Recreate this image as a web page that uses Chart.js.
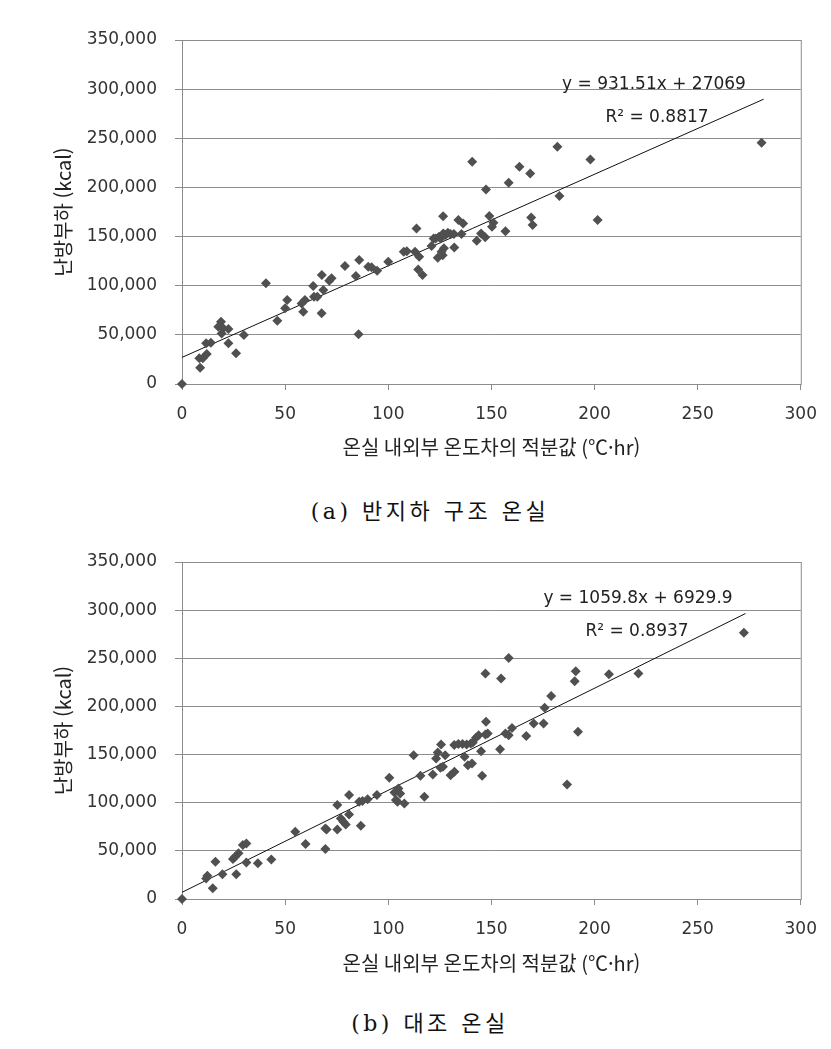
<!DOCTYPE html>
<html lang="ko">
<head>
  <meta charset="UTF-8" />
  <title>난방부하 회귀</title>
  <script src="https://cdn.jsdelivr.net/npm/chart.js"></script>
  <style>
    body { margin: 0; background: #fff; }
    .wrap { position: relative; width: 831px; height: 1049px; }
    canvas { position: absolute; left: 0; }
    .cap { position: absolute; left: 230px; width: 400px; text-align: center;
           font-family: 'DejaVu Serif', 'Noto Sans CJK KR'; font-size: 22px; letter-spacing: 3.5px; color: #111; }
  </style>
</head>
<body>
<div class="wrap">
  <canvas id="chartA" width="831" height="470" style="top:0"></canvas>
  <div class="cap" style="top:493px">(a) 반지하 구조 온실</div>
  <canvas id="chartB" width="831" height="470" style="top:522px"></canvas>
  <div class="cap" style="top:1005px">(b) 대조 온실</div>
</div>

<script>
  // (a) 반지하 구조 온실
  const xA = [0, 8.8, 8.4, 10.1, 12, 11.7, 14, 18.9, 17.6, 20, 22.5, 19.2, 22.5, 26.2, 30,
    40.7, 46.2, 50, 51, 58, 59.6, 58.8, 63.6, 64, 65.6, 67.8, 67.7, 68.5, 71.4, 72.5,
    79, 84.3, 85.9, 85.6, 90.3, 91.9, 94.6, 100, 107.5, 109, 113, 113.7, 115, 114.5, 116.6,
    121, 122, 123, 124.6, 125.4, 126.7, 127.8, 128.9, 130.2, 131.8, 132, 124, 125.8, 126.4, 127,
    126.6, 134, 136.3, 135.5, 140.7, 142.9, 145, 147, 147.4, 149, 151, 150.3,
    156.8, 158.4, 163.6, 168.8, 169.3, 170, 182, 183, 198, 201.5, 281];
  const yA = [0, 16600, 26100, 26100, 30500, 41400, 42000, 63400, 58300, 56600, 56000, 51500, 41400, 31200, 49800,
    102400, 64400, 77000, 85400, 82000, 85400, 73600, 99700, 88800, 88800, 110800, 71900, 95600, 105100, 107500,
    120000, 109800, 126100, 50500, 119300, 118700, 115300, 124400, 134600, 135000, 134600, 158300, 129500, 116600, 110800,
    140300, 148100, 148100, 149800, 148100, 153200, 151500, 153900, 152500, 152500, 139000, 128500, 134600, 131000, 138000,
    170800, 166800, 163400, 152500, 226100, 145800, 153200, 149200, 198000, 170900, 164100, 160000,
    155300, 204800, 221000, 214200, 169500, 161700, 241400, 191200, 228500, 166800, 245400];
  const fitA = [931.51, 27069];   // slope, intercept
  const fitEndA = 282;
  const labelA = ['y = 931.51x + 27069', 'R² = 0.8817'];

  // (b) 대조 온실
  const xB = [0, 11.7, 12.3, 14.9, 16.2, 19.6, 24.7, 25.8, 27.4, 26.3, 29.5, 31.2, 31.2, 36.8, 43.3,
    54.9, 59.9, 69.5, 70.1, 69.5, 75.3, 75.3, 77, 78.2, 79.4, 81, 81, 86.7, 85.9, 87.5, 90, 94.5,
    100.5, 103, 103.7, 104.9, 105.8, 104.5, 107.8, 112.3, 115.6, 117.5, 121.6, 123.2, 124, 125.6,
    125.3, 126.5, 127.6, 130.2, 132.1, 132, 134, 136, 138, 140, 141, 142.5, 143.8, 137, 138.6, 140.6,
    145, 145.5, 147.1, 147.4, 148.2, 147.1, 154.2, 154.7, 156.8, 158.4, 160, 158.4, 166.9,
    170.5, 175.3, 175.8, 179, 186.7, 190.4, 190.9, 192, 207, 221.3, 272.4];
  const yB = [0, 21400, 24200, 11100, 38700, 25600, 41500, 43900, 47400, 25600, 56000, 57700, 38000, 37000, 41100,
    69900, 57100, 73300, 72300, 51900, 97500, 72300, 83700, 80200, 77500, 107900, 87800, 76100, 101000, 101700, 103700, 107900,
    125900, 110700, 102700, 114800, 109600, 101000, 99200, 149400, 128000, 106200, 129300, 145900, 152200, 160400,
    136200, 137300, 149400, 128600, 132100, 160000, 161000, 161000, 160500, 161500, 162500, 167400, 170100, 147700, 139000, 140700,
    153500, 127900, 234100, 184000, 171900, 170800, 155600, 228900, 171900, 170100, 177700, 250400, 169400,
    182200, 182200, 198500, 210900, 119000, 226100, 236500, 173600, 233400, 234100, 276600];
  const fitB = [1059.8, 6929.9];
  const fitEndB = 273.2;
  const labelB = ['y = 1059.8x + 6929.9', 'R² = 0.8937'];

  const xTicks = [0, 50, 100, 150, 200, 250, 300];
  const yMax = 350000, yStep = 50000;
  const xTitle = '온실 내외부 온도차의 적분값 (℃·hr)';
  const yTitle = '난방부하 (kcal)';

  const tickFont = { family: 'DejaVu Sans', size: 17 };
  const krFont = { family: 'Noto Sans CJK KR', size: 20 };
  const gridGray = '#8c8c8c';

  // box around the plot area + regression text
  const framePlugin = {
    id: 'frame',
    beforeDatasetsDraw(chart) {
      const { ctx, chartArea: a } = chart;
      ctx.save();
      ctx.strokeStyle = gridGray;
      ctx.lineWidth = 1;
      ctx.strokeRect(a.left + 0.5, a.top + 0.5, a.right - a.left, a.bottom - a.top);
      ctx.restore();
    },
    afterDraw(chart, args, opts) {
      const { ctx, chartArea: a } = chart;
      ctx.save();
      ctx.fillStyle = '#222';
      ctx.font = '17px "DejaVu Sans"';
      ctx.textAlign = 'center';
      ctx.textBaseline = 'middle';
      ctx.fillText(opts.lines[0], a.left + opts.dx[0], a.top + opts.dy[0]);
      ctx.fillText(opts.lines[1], a.left + opts.dx[1], a.top + opts.dy[1]);
      ctx.restore();
    }
  };

  function makeChart(id, xs, ys, fit, fitEnd, lines, lay) {
    const pts = xs.map((x, i) => ({ x: x, y: ys[i] }));
    const fitPts = [0, fitEnd].map(x => ({ x: x, y: fit[0] * x + fit[1] }));
    return new Chart(document.getElementById(id), {
      type: 'scatter',
      data: {
        datasets: [{
          data: pts,
          pointStyle: 'rectRot',
          pointRadius: 5,
          pointHoverRadius: 5,
          backgroundColor: '#505050',
          borderColor: '#505050',
          borderWidth: 0,
          clip: false
        }, {
          type: 'line',
          data: fitPts,
          borderColor: '#111',
          borderWidth: 1,
          pointRadius: 0,
          fill: false
        }]
      },
      options: {
        responsive: false,
        animation: false,
        layout: { padding: { top: lay.top, right: 30, left: 0, bottom: 0 } },
        plugins: {
          legend: { display: false },
          tooltip: { enabled: false },
          frame: { lines: lines, dx: lay.dx, dy: lay.dy }
        },
        scales: {
          x: {
            type: 'linear',
            min: 0, max: 300,
            afterBuildTicks: s => { s.ticks = xTicks.map(v => ({ value: v })); },
            afterFit: s => { s.height = lay.xh; },
            grid: { drawOnChartArea: false, drawTicks: true, tickLength: 6, color: gridGray },
            border: { color: gridGray },
            ticks: { font: tickFont, color: '#333', padding: 14, maxRotation: 0 },
            title: { display: true, text: xTitle, font: krFont, color: '#222', padding: { top: 0, bottom: lay.tpad } }
          },
          y: {
            min: 0, max: yMax,
            ticks: { stepSize: yStep, font: tickFont, color: '#333', padding: 18,
                     callback: v => v.toLocaleString('en-US') },
            afterFit: s => { s.width = 182; },
            grid: { color: gridGray, tickLength: 7 },
            border: { color: gridGray },
            title: { display: true, text: yTitle, font: krFont, color: '#222', padding: { top: 51, bottom: 0 } }
          }
        }
      },
      plugins: [framePlugin]
    });
  }

  makeChart('chartA', xA, yA, fitA, fitEndA, labelA,
    { top: 40, xh: 86, tpad: 11, dx: [472, 475], dy: [45, 78] });
  makeChart('chartB', xB, yB, fitB, fitEndB, labelB,
    { top: 40, xh: 93, tpad: 17, dx: [456, 455], dy: [37, 70] });
</script>
</body>
</html>
